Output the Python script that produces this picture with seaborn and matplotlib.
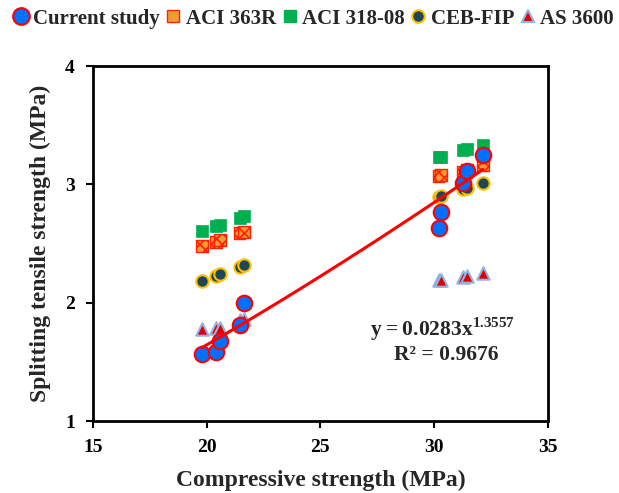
import numpy as np
import pandas as pd
import matplotlib
matplotlib.use("Agg")
import matplotlib.pyplot as plt
import seaborn as sns
from matplotlib.lines import Line2D

sns.set_theme(style="white")
plt.rcParams['font.family'] = ['Liberation Serif', 'DejaVu Serif']
plt.rcParams['font.weight'] = 'bold'
plt.rcParams['mathtext.fontset'] = 'custom'
plt.rcParams['mathtext.rm'] = 'Liberation Serif'
plt.rcParams['mathtext.bf'] = 'Liberation Serif:bold'
plt.rcParams['hatch.linewidth'] = 1.2

# ---- data ----
fc_current = [19.8, 20.4, 20.6, 21.45, 21.65, 30.2, 30.3, 31.25, 31.45, 32.15]
ft_current = [1.57, 1.585, 1.68, 1.81, 2.00, 2.63, 2.77, 3.01, 3.11, 3.25]

fc_codes = [19.8, 20.4, 20.6, 21.45, 21.65, 30.2, 30.3, 31.25, 31.45, 32.15]
ft_aci363 = [2.48, 2.515, 2.53, 2.59, 2.60, 3.07, 3.08, 3.11, 3.12, 3.16]
ft_aci318 = [2.61, 2.65, 2.66, 2.72, 2.73, 3.23, 3.235, 3.29, 3.30, 3.33]
ft_cebfip = [2.18, 2.225, 2.24, 2.30, 2.32, 2.89, 2.90, 2.96, 2.97, 3.01]
ft_as3600 = [1.775, 1.79, 1.79, 1.85, 1.86, 2.19, 2.19, 2.22, 2.225, 2.25]

fit_a = 0.0283
fit_b = 1.3557
fit_r2 = 0.9676

x_ticks = [15, 20, 25, 30, 35]
y_ticks = [1, 2, 3, 4]

fig = plt.figure(figsize=(6.19, 4.93), dpi=100)
ax = fig.add_axes([0.150, 0.146, 0.735, 0.720])

df_cur = pd.DataFrame({'fc': fc_current, 'ft': ft_current})
df_codes = pd.DataFrame({'fc': fc_codes, 'aci363': ft_aci363, 'aci318': ft_aci318,
                         'ceb': ft_cebfip, 'as': ft_as3600})

sns.scatterplot(data=df_codes, x='fc', y='aci318', ax=ax, marker='s', s=70,
                color='#00B050', edgecolor='#00B050', linewidth=0.5, zorder=3)
sns.scatterplot(data=df_codes, x='fc', y='aci363', ax=ax, marker='s', s=70,
                color='#FF9933', edgecolor='#FF2000', linewidth=1.0, hatch='xxx', zorder=3)
sns.scatterplot(data=df_codes, x='fc', y='ceb', ax=ax, marker='o', s=80,
                color='#1B4756', edgecolor='#FFC000', linewidth=1.5, zorder=3)
sns.scatterplot(data=df_codes, x='fc', y='as', ax=ax, marker='^', s=80,
                color='#E00000', edgecolor='#8EB4E3', linewidth=1.5, zorder=3)
sns.scatterplot(data=df_cur, x='fc', y='ft', ax=ax, marker='o', s=125,
                color='#0070FF', edgecolor='#FF0000', linewidth=1.5, zorder=4)

xs = np.linspace(min(fc_current), max(fc_current), 100)
sns.lineplot(x=xs, y=fit_a * xs ** fit_b, ax=ax, color='#FF0000', linewidth=2.2, zorder=5)

ax.text(30.35, 1.775, r'$\mathbf{y = ' + f'{fit_a}' + r'x}^{' + f'{fit_b}' + r'}$',
        ha='center', va='center', fontsize=15.5)
ax.text(30.55, 1.56, f'R² = {fit_r2}', ha='center', va='center', fontsize=15.5, fontweight='bold')

ax.set_xlim(15, 35)
ax.set_ylim(1, 4)
ax.set_xticks(x_ticks)
ax.set_yticks(y_ticks)
ax.set_xlabel('Compressive strength (MPa)', fontsize=17, fontweight='bold', labelpad=10)
ax.set_ylabel('Splitting tensile strength (MPa)', fontsize=17, fontweight='bold', labelpad=10)
ax.tick_params(axis='both', direction='out', length=5, width=1.5, labelsize=14,
               colors='black', bottom=True, left=True, pad=8)
for lab in ax.get_xticklabels() + ax.get_yticklabels():
    lab.set_fontweight('bold')
for sp in ax.spines.values():
    sp.set_visible(True)
    sp.set_color('black')
    sp.set_linewidth(2.0)

handles = [
    Line2D([], [], marker='o', linestyle='none', markersize=12, markerfacecolor='#0070FF',
           markeredgecolor='#FF0000', markeredgewidth=1.5, label='Current study'),
    Line2D([], [], marker='s', linestyle='none', markersize=8, markerfacecolor='#FF9933',
           markeredgecolor='#FF2000', markeredgewidth=1.0, label='ACI 363R'),
    Line2D([], [], marker='s', linestyle='none', markersize=8, markerfacecolor='#00B050',
           markeredgecolor='#00B050', label='ACI 318-08'),
    Line2D([], [], marker='o', linestyle='none', markersize=9, markerfacecolor='#1B4756',
           markeredgecolor='#FFC000', markeredgewidth=1.5, label='CEB-FIP'),
    Line2D([], [], marker='^', linestyle='none', markersize=9, markerfacecolor='#E00000',
           markeredgecolor='#8EB4E3', markeredgewidth=1.5, label='AS 3600'),
]
leg = fig.legend(handles=handles, loc='center', bbox_to_anchor=(0.505, 0.962), ncol=5,
                 frameon=False, handletextpad=0.15, columnspacing=0.2, handlelength=0.9,
                 borderpad=0.1, prop={'family': 'Liberation Serif', 'weight': 'bold', 'size': 15})

fig.savefig('out.png', dpi=100)
